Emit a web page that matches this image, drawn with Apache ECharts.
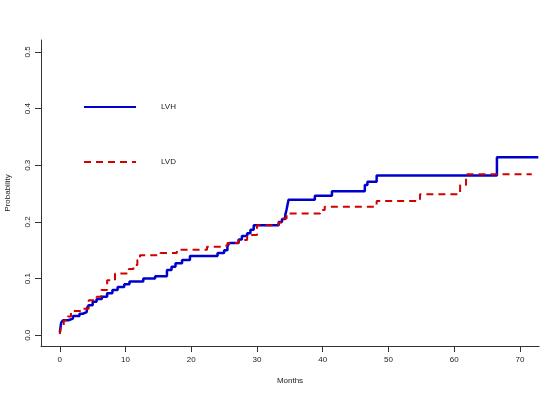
<!DOCTYPE html>
<html>
<head>
<meta charset="utf-8">
<script src="https://cdn.jsdelivr.net/npm/echarts@6/dist/echarts.min.js"></script>
<style>
  html, body { margin: 0; padding: 0; background: #fff; }
  #container { width: 560px; height: 397px; }
</style>
</head>
<body>
<div id="container"></div>
<script>
// cumulative probability, step curves
var lvhMonths = [0, 0.2, 0.5, 1.3, 2.0, 3.0, 3.5, 4.1, 4.4, 5.0, 5.6, 6.4, 7.2, 8.0, 8.8, 9.8, 10.6, 12.7, 14.5, 16.3, 17.0, 17.6, 18.6, 19.8, 24.0, 25.0, 25.5, 25.8, 27.2, 27.7, 28.5, 29.0, 29.5, 33.3, 33.8, 34.3, 34.5, 34.8, 38.8, 41.4, 46.4, 46.8, 48.2, 66.5, 72.8];
var lvhProb = [0.005, 0.022, 0.0265, 0.0295, 0.034, 0.038, 0.041, 0.047, 0.053, 0.059, 0.064, 0.068, 0.074, 0.080, 0.085, 0.090, 0.095, 0.100, 0.104, 0.115, 0.121, 0.127, 0.133, 0.140, 0.145, 0.150, 0.157, 0.163, 0.169, 0.175, 0.180, 0.186, 0.194, 0.200, 0.205, 0.212, 0.222, 0.239, 0.246, 0.254, 0.265, 0.271, 0.282, 0.314, 0.314];

var lvdMonths = [0, 0.2, 0.6, 1.2, 1.7, 3.3, 4.4, 5.6, 6.3, 7.2, 8.4, 10.5, 11.2, 11.8, 12.2, 15.3, 17.8, 22.4, 24.9, 25.5, 27.2, 28.5, 30.0, 33.3, 34.0, 34.5, 39.6, 40.3, 48.2, 54.8, 60.9, 61.8, 71.8];
var lvdProb = [0.002, 0.018, 0.026, 0.033, 0.043, 0.047, 0.062, 0.068, 0.080, 0.097, 0.109, 0.117, 0.124, 0.133, 0.141, 0.145, 0.151, 0.156, 0.159, 0.163, 0.168, 0.177, 0.194, 0.199, 0.206, 0.215, 0.221, 0.227, 0.237, 0.249, 0.265, 0.284, 0.284];

var xTicks = [0, 10, 20, 30, 40, 50, 60, 70];
var yTicks = [0, 0.1, 0.2, 0.3, 0.4, 0.5];

function pairs(xs, ys) {
  return xs.map(function (x, i) { return [x, ys[i]]; });
}

var dom = document.getElementById('container');
var myChart = echarts.init(dom, null, { renderer: 'canvas' });

var font = 'Liberation Sans, Arial, sans-serif';

var option = {
  animation: false,
  backgroundColor: '#fff',
  textStyle: { fontFamily: font },
  grid: { left: 41, right: 21, top: 40, bottom: 51, outerBoundsMode: 'none', containLabel: false },
  legend: {
    orient: 'vertical',
    left: 83,
    top: 101,
    padding: 0,
    itemWidth: 52,
    itemHeight: 10,
    itemGap: 45,
    itemStyle: { opacity: 0 },
    textStyle: { fontSize: 8, color: '#222', fontFamily: font, padding: [0, 0, 0, 20] },
    data: ['LVH', 'LVD']
  },
  xAxis: {
    type: 'value',
    min: -2.86,
    max: 72.9,
    name: 'Months',
    nameLocation: 'middle',
    nameGap: 31,
    nameTextStyle: { fontSize: 8, color: '#222' },
    splitLine: { show: false },
    axisLine: { onZero: false, lineStyle: { color: '#333', width: 1 } },
    axisTick: { customValues: xTicks, length: 6, lineStyle: { color: '#333' } },
    axisLabel: {
      customValues: xTicks,
      fontSize: 8,
      color: '#222',
      margin: 10,
      formatter: function (v) { return String(v); }
    }
  },
  yAxis: {
    type: 'value',
    min: -0.0189,
    max: 0.521,
    name: 'Probability',
    nameLocation: 'middle',
    nameRotate: 90,
    nameGap: 29,
    nameTextStyle: { fontSize: 8, color: '#222' },
    splitLine: { show: false },
    axisLine: { show: true, onZero: false, lineStyle: { color: '#333', width: 1 } },
    axisTick: { show: true, customValues: yTicks, length: 6, lineStyle: { color: '#333' } },
    axisLabel: {
      customValues: yTicks,
      rotate: 90,
      fontSize: 8,
      color: '#222',
      margin: 9,
      formatter: function (v) { return v.toFixed(1); }
    }
  },
  series: [
    {
      name: 'LVH',
      type: 'line',
      step: 'end',
      symbol: 'none',
      data: pairs(lvhMonths, lvhProb),
      itemStyle: { color: '#0000cd' },
      lineStyle: { color: '#0000cd', width: 2.5 }
    },
    {
      name: 'LVD',
      type: 'line',
      step: 'end',
      symbol: 'none',
      data: pairs(lvdMonths, lvdProb),
      itemStyle: { color: '#d40000' },
      lineStyle: { color: '#d40000', width: 2, type: [7, 5] }
    }
  ]
};

option.legend.top = 103;
option.legend.itemGap = 47;

myChart.setOption(option);
window.addEventListener('resize', myChart.resize);
</script>
</body>
</html>
